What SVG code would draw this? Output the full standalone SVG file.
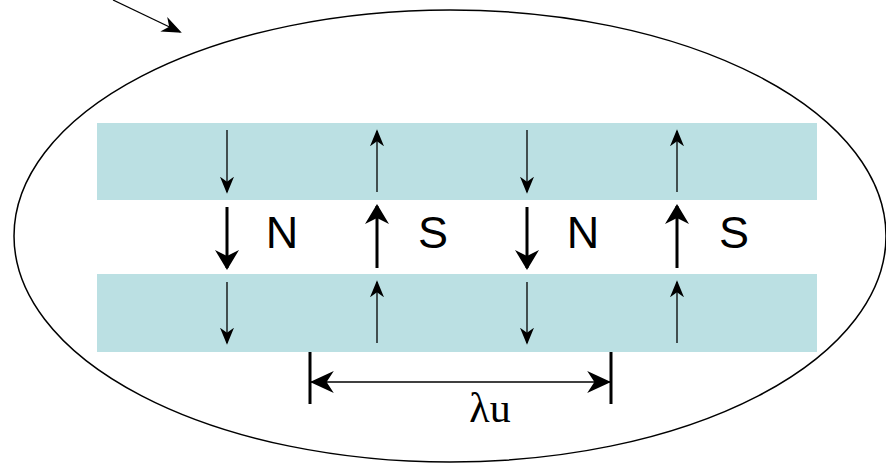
<svg xmlns="http://www.w3.org/2000/svg" width="886" height="463" viewBox="0 0 886 463">
<defs>
<style>
.band{fill:#bbe0e3}
.thin{stroke:#000;stroke-width:1.3;fill:none}
.thick{stroke:#000;stroke-width:3;fill:none}
.lbl{font-family:"Liberation Sans",Arial,sans-serif;font-size:45px;fill:#000}
</style>
<marker id="ah" viewBox="0 0 10 10" refX="9" refY="5" markerWidth="17" markerHeight="14" markerUnits="userSpaceOnUse" preserveAspectRatio="none" orient="auto"><path d="M0,0 L10,5 L0,10 L3,5 Z" fill="#000"/></marker>
<marker id="ah2" viewBox="0 0 10 10" refX="9" refY="5" markerWidth="20" markerHeight="24" markerUnits="userSpaceOnUse" preserveAspectRatio="none" orient="auto"><path d="M0,0 L10,5 L0,10 L3,5 Z" fill="#000"/></marker>
<marker id="ah4" viewBox="0 0 10 10" refX="9.5" refY="5" markerWidth="24" markerHeight="22" markerUnits="userSpaceOnUse" preserveAspectRatio="none" orient="auto"><path d="M0,0 L10,5 L0,10 L3,5 Z" fill="#000"/></marker>
<marker id="ah3" viewBox="0 0 10 10" refX="9" refY="5" markerWidth="20" markerHeight="16" markerUnits="userSpaceOnUse" preserveAspectRatio="none" orient="auto"><path d="M0,0 L10,5 L0,10 L3,5 Z" fill="#000"/></marker>
</defs>
<ellipse cx="450" cy="236" rx="436" ry="226" fill="none" stroke="#000" stroke-width="1.5"/>
<rect id="top-band" class="band" x="97" y="123" width="720" height="77"/>
<rect id="bottom-band" class="band" x="97" y="274" width="720" height="78"/>
<g id="connectors">
<line class="thin" x1="113" y1="0" x2="180" y2="32" stroke-width="2" marker-end="url(#ah3)"/>
<line class="thin" x1="227" y1="130" x2="227" y2="192" marker-end="url(#ah)"/>
<line class="thin" x1="377" y1="192" x2="377" y2="131" marker-end="url(#ah)"/>
<line class="thin" x1="527" y1="130" x2="527" y2="192" marker-end="url(#ah)"/>
<line class="thin" x1="677" y1="192" x2="677" y2="131" marker-end="url(#ah)"/>
<line class="thin" x1="227" y1="282" x2="227" y2="343" marker-end="url(#ah)"/>
<line class="thin" x1="377" y1="343" x2="377" y2="282" marker-end="url(#ah)"/>
<line class="thin" x1="527" y1="282" x2="527" y2="343" marker-end="url(#ah)"/>
<line class="thin" x1="677" y1="343" x2="677" y2="282" marker-end="url(#ah)"/>
<line class="thick" x1="227" y1="207" x2="227" y2="268" marker-end="url(#ah2)"/>
<line class="thick" x1="377" y1="268" x2="377" y2="206" marker-end="url(#ah2)"/>
<line class="thick" x1="527" y1="207" x2="527" y2="268" marker-end="url(#ah2)"/>
<line class="thick" x1="677" y1="268" x2="677" y2="206" marker-end="url(#ah2)"/>
<line class="thick" x1="310" y1="352" x2="310" y2="404"/>
<line class="thick" x1="611" y1="352" x2="611" y2="404"/>
<line class="thin" x1="460" y1="382" x2="311" y2="382" stroke-width="2" marker-end="url(#ah4)"/>
<line class="thin" x1="460" y1="382" x2="610" y2="382" stroke-width="2" marker-end="url(#ah4)"/>
</g>
<g id="label-n1"><text class="lbl" x="282" y="248" text-anchor="middle">N</text></g>
<g id="label-s1"><text class="lbl" x="433" y="248" text-anchor="middle">S</text></g>
<g id="label-n2"><text class="lbl" x="583" y="248" text-anchor="middle">N</text></g>
<g id="label-s2"><text class="lbl" x="734" y="248" text-anchor="middle">S</text></g>
<g id="label-lambda"><text x="490" y="422" text-anchor="middle" font-family="'Liberation Serif','Times New Roman',serif" font-size="42">λu</text></g>
</svg>
